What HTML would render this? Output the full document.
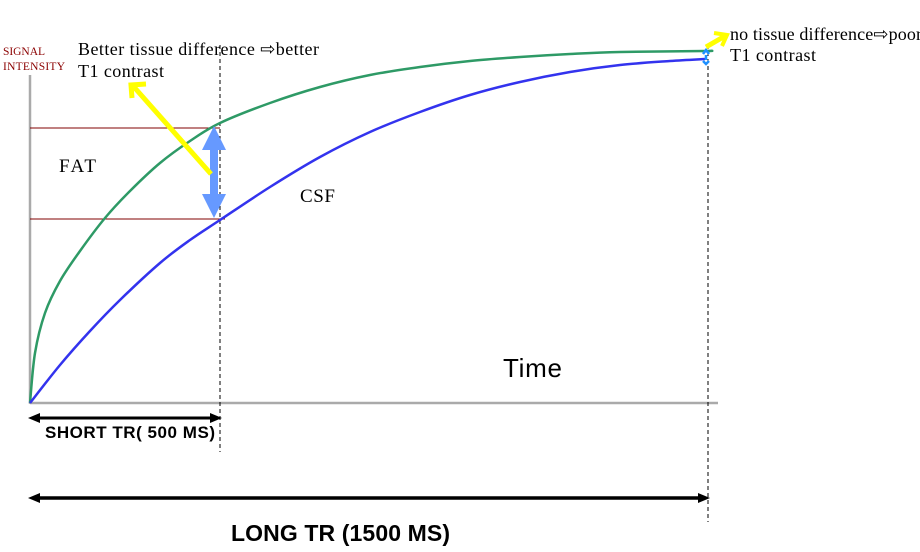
<!DOCTYPE html>
<html><head><meta charset="utf-8"><style>
body{margin:0;background:#fff;width:920px;height:552px;overflow:hidden}
svg{display:block}
.s{font-family:"Liberation Serif",serif}
.a{font-family:"Liberation Sans",sans-serif}
</style></head><body>
<svg id="c" width="920" height="552">
<defs>
<marker id="bh" markerWidth="12" markerHeight="10" refX="6" refY="5" orient="auto-start-reverse" markerUnits="userSpaceOnUse"><path d="M0,0 L12,5 L0,10 z" fill="#000"/></marker>
</defs>
<line x1="30" y1="75" x2="30" y2="404" stroke="#aaa" stroke-width="2.5"/>
<line x1="30" y1="403" x2="718" y2="403" stroke="#aaa" stroke-width="2.5"/>
<line x1="220" y1="45" x2="220" y2="452" stroke="#000" stroke-dasharray="4,3"/>
<line x1="708" y1="45" x2="708" y2="522" stroke="#000" stroke-dasharray="4,3"/>
<line x1="30" y1="128" x2="220" y2="128" stroke="#800000"/>
<line x1="30" y1="219" x2="225" y2="219" stroke="#800000"/>
<g id="curves"></g>
<line x1="214" y1="140" x2="214" y2="206" stroke="#6699ff" stroke-width="8"/>
<polygon points="214,126 202,150 226,150" fill="#6699ff"/>
<polygon points="214,218 202,194 226,194" fill="#6699ff"/>
<path d="M706,55 L706,60 M703,54 L706,50 L709,54 M703,61 L706,64 L709,61" stroke="#1e90ff" stroke-width="2.5" fill="none"/>
<line x1="211" y1="174" x2="134" y2="87" stroke="#ffff00" stroke-width="5"/>
<path d="M132,98 L131,85 L146,84" stroke="#ffff00" stroke-width="5" fill="none"/>
<line x1="706" y1="47" x2="725" y2="36" stroke="#ffff00" stroke-width="5"/>
<path d="M714,33 L727,35 L722,46" stroke="#ffff00" stroke-width="4" fill="none"/>
<line x1="34" y1="418" x2="216" y2="418" stroke="#000" stroke-width="3" marker-start="url(#bh)" marker-end="url(#bh)"/>
<line x1="34" y1="498" x2="704" y2="498" stroke="#000" stroke-width="3.5" marker-start="url(#bh)" marker-end="url(#bh)"/>
<text x="3" y="55" class="s" font-size="11.5" fill="#8b0000" textLength="42">SIGNAL</text>
<text x="3" y="70" class="s" font-size="11.5" fill="#8b0000" textLength="62">INTENSITY</text>
<text x="78" y="55" class="s" font-size="18" textLength="241">Better tissue difference ⇨better</text>
<text x="78" y="77" class="s" font-size="18" textLength="86">T1 contrast</text>
<text x="730" y="40" class="s" font-size="18" textLength="192">no tissue difference⇨poor</text>
<text x="730" y="61" class="s" font-size="18" textLength="86">T1 contrast</text>
<text x="59" y="172" class="s" font-size="19" textLength="37">FAT</text>
<text x="300" y="202" class="s" font-size="19" textLength="35">CSF</text>
<text x="503" y="377" class="a" font-size="26" textLength="59">Time</text>
<text x="45" y="438" class="a" font-size="17" font-weight="bold" textLength="170">SHORT TR( 500 MS)</text>
<text x="231" y="541" class="a" font-size="23" font-weight="bold" textLength="219">LONG TR (1500 MS)</text>
</svg>
<script>
const fatTime=[0,5,15,30,50,75,100,130,160,190,240,290,340,390,440,490,540,590,675,678];
const fatSignal=[0,50,90,122,152,185,212,240,262,280,300,316,328,336,342,346,349,351,352,352];
const csfTime=[0,30,60,90,130,160,190,240,290,340,390,440,490,540,590,640,675];
const csfSignal=[0,38,72,103,140,163,183,216,246,271,291,308,321,331,338,342,344];
const xS=t=>30+t, yS=s=>403-s;
function draw(ts,ss,color,name){
  const pts=ts.map((t,i)=>[xS(t),yS(ss[i])]);
  let d='M'+pts[0][0]+','+pts[0][1];
  for(let i=0;i<pts.length-1;i++){
    const p0=pts[Math.max(0,i-1)],p1=pts[i],p2=pts[i+1],p3=pts[Math.min(pts.length-1,i+2)];
    const c1=[p1[0]+(p2[0]-p0[0])/6,p1[1]+(p2[1]-p0[1])/6];
    const c2=[p2[0]-(p3[0]-p1[0])/6,p2[1]-(p3[1]-p1[1])/6];
    d+=' C'+c1.join(',')+' '+c2.join(',')+' '+p2.join(',');
  }
  const p=document.createElementNS('http://www.w3.org/2000/svg','path');
  p.setAttribute('d',d);
  p.setAttribute('fill','none');p.setAttribute('stroke',color);p.setAttribute('stroke-width','2.5');
  
  
  document.getElementById('curves').appendChild(p);
}
draw(fatTime,fatSignal,'#2e9a66','fat-curve');
draw(csfTime,csfSignal,'#3333ee','csf-curve');
</script>
</body></html>
